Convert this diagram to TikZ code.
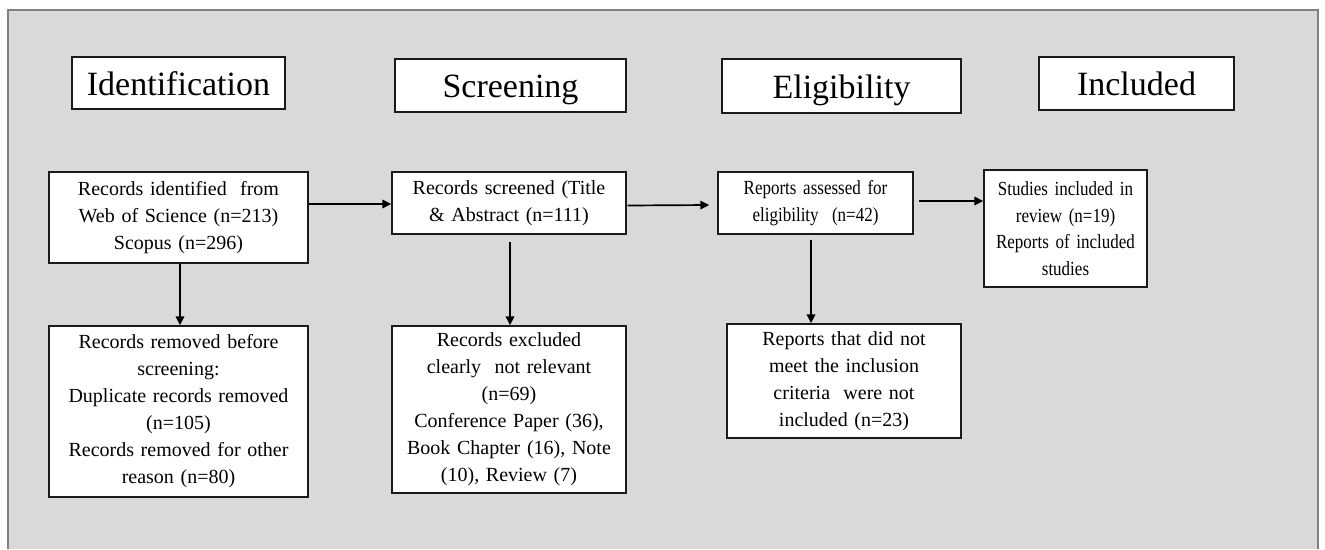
\documentclass[tikz,border=0pt]{standalone}
\usepackage{fontspec}
\setmainfont{Liberation Serif}
\usetikzlibrary{arrows.meta}
\definecolor{bggray}{HTML}{D9D9D9}
\definecolor{framegray}{HTML}{7F7F7F}
\definecolor{boxline}{HTML}{1A1A1A}
\begin{document}
\begin{tikzpicture}[x=1pt,y=-1pt,
  headbox/.style={draw=boxline,line width=1.4pt,fill=white,inner sep=0pt,
    text height=30pt,text depth=6pt,
    font={\fontsize{34}{40}\selectfont}},
  infobox/.style={draw=boxline,line width=1.4pt,fill=white,inner sep=0pt,align=center,
    font={\fontsize{20}{27}\selectfont}},
  smallinfo/.style={infobox,font={\fontsize{20}{26.5}\selectfont\addfontfeature{FakeStretch=0.85}}},
  arr/.style={draw=black,line width=1.7pt,-{Triangle[length=9pt,width=8.5pt]}}]
\useasboundingbox (0,0) rectangle (1325,549);
% background panel
\fill[bggray] (8,10) rectangle (1318,549);
\draw[framegray,line width=1.6pt] (8,549) -- (8,10) -- (1318,10) -- (1318,549);
% header boxes
\node[headbox,minimum width=213pt,minimum height=52pt] (idh) at (178.5,83) {Identification};
\node[headbox,minimum width=231pt,minimum height=53pt] (scrh) at (510.5,85.5) {Screening};
\node[headbox,minimum width=239pt,minimum height=54pt] (elih) at (841.5,86) {Eligibility};
\node[headbox,minimum width=195pt,minimum height=53pt] (inch) at (1136.5,83.5) {Included};
% first row
\node[infobox,minimum width=259pt,minimum height=91pt,text width=255pt] (rid) at (178.5,217.5)
  {Records identified\ \ from\\ Web of Science (n=213)\\ Scopus (n=296)};
\node[infobox,minimum width=234pt,minimum height=62pt,text width=230pt] (rsc) at (509,203)
  {Records screened (Title\\ \& Abstract (n=111)};
\node[smallinfo,minimum width=195pt,minimum height=62pt,text width=191pt] (ras) at (815.5,203)
  {Reports assessed for\\ eligibility\ \ (n=42)};
\node[smallinfo,minimum width=163pt,minimum height=117pt,text width=159pt] (sti) at (1065.5,228.5)
  {Studies included in\\ review (n=19)\\ Reports of included\\ studies};
% second row
\node[infobox,minimum width=259pt,minimum height=171pt,text width=255pt] (rrm) at (178.5,411.5)
  {Records removed before\\ screening:\\ Duplicate records removed\\ (n=105)\\ Records removed for other\\ reason (n=80)};
\node[infobox,minimum width=234pt,minimum height=167pt,text width=230pt] (rex) at (509,409.5)
  {Records excluded\\ clearly\ \ not relevant\\ (n=69)\\ Conference Paper (36),\\ Book Chapter (16), Note\\ (10), Review (7)};
\node[infobox,minimum width=234pt,minimum height=114pt,text width=230pt] (rnm) at (844,381)
  {Reports that did not\\ meet the inclusion\\ criteria\ \ were not\\ included (n=23)};
% horizontal connectors
\coordinate (h1) at ([yshift=13.5pt]rid.east);
\draw[arr] (h1) -- (h1 -| rsc.west);
\coordinate (h2) at ([xshift=1pt,yshift=-2.5pt]rsc.east);
\coordinate (h2e) at ([xshift=-8pt,yshift=-2pt]ras.west);
\draw[arr] (h2) -- (h2e);
\coordinate (h3) at ([xshift=5pt,yshift=2pt]ras.east);
\draw[arr] (h3) -- (h3 -| sti.west);
% vertical connectors
\coordinate (v1) at ([xshift=1.5pt]rid.south);
\draw[arr] (v1) -- (v1 |- rrm.north);
\coordinate (v2) at ([xshift=1pt,yshift=-7pt]rsc.south);
\draw[arr] (v2) -- (v2 |- rex.north);
\coordinate (v3) at ([xshift=-4.5pt,yshift=-5pt]ras.south);
\draw[arr] (v3) -- (v3 |- rnm.north);
\end{tikzpicture}
\end{document}
